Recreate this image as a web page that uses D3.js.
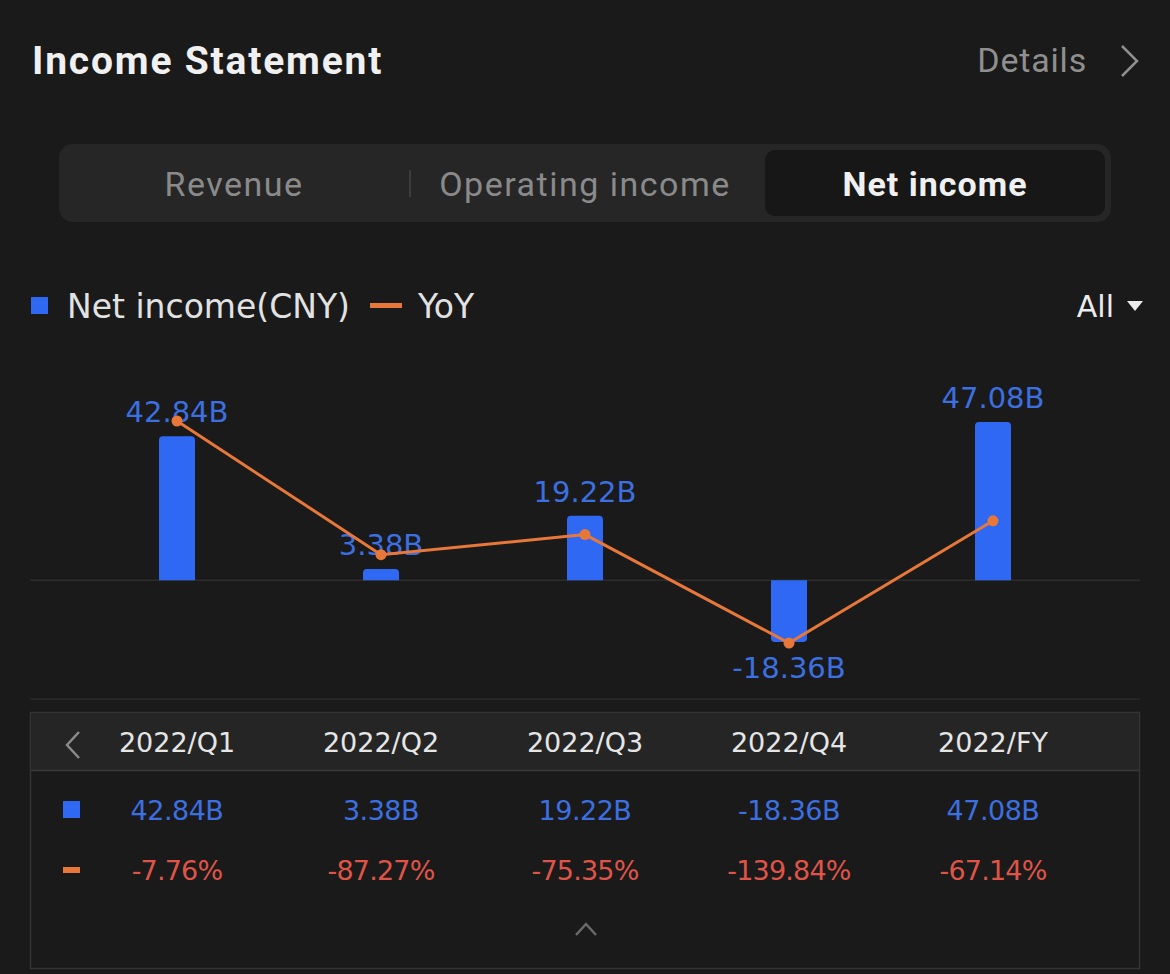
<!DOCTYPE html>
<html>
<head>
<meta charset="utf-8">
<script src="https://cdn.jsdelivr.net/npm/d3@7"></script>
<style>
  html, body { margin: 0; padding: 0; background: #1a1a1a; }
  svg { display: block; }
</style>
</head>
<body>
<svg id="chart" width="1170" height="974"></svg>
<script>
var periods = ['2022/Q1', '2022/Q2', '2022/Q3', '2022/Q4', '2022/FY'];
var netIncome = [42.84, 3.38, 19.22, -18.36, 47.08];
var yoy = [-7.76, -87.27, -75.35, -139.84, -67.14];
var tabs = ['Revenue', 'Operating income', 'Net income'];
var activeTab = 2;

var blue = '#2f69f3';
var blueText = '#3c6fe0';
var orange = '#e8773a';
var red = '#df5447';
var numFont = '"DejaVu Sans", sans-serif';
var uiFont = 'Roboto, "Noto Sans", sans-serif';

var svg = d3.select('#chart');

svg.append('rect')
	.attr('width', 1170).attr('height', 974)
	.attr('fill', '#1a1a1a');

// header
svg.append('text')
	.attr('x', 32).attr('y', 74)
	.attr('font-family', uiFont).attr('font-weight', 700).attr('font-size', 39)
	.attr('letter-spacing', 1.8)
	.attr('fill', '#f0f0f0')
	.text('Income Statement');

svg.append('text')
	.attr('x', 1087).attr('y', 72)
	.attr('text-anchor', 'end')
	.attr('font-family', uiFont).attr('font-size', 34)
	.attr('letter-spacing', 0.8)
	.attr('fill', '#8f8f8f')
	.text('Details');

svg.append('path')
	.attr('d', 'M1122,46 L1137,61 L1122,76')
	.attr('fill', 'none').attr('stroke', '#8f8f8f').attr('stroke-width', 2.5);

// tabs
svg.append('rect')
	.attr('x', 59).attr('y', 144).attr('width', 1052).attr('height', 78)
	.attr('rx', 14).attr('fill', '#262626');
svg.append('rect')
	.attr('x', 765).attr('y', 150).attr('width', 340).attr('height', 66)
	.attr('rx', 10).attr('fill', '#171717');
svg.append('line')
	.attr('x1', 410).attr('x2', 410).attr('y1', 170).attr('y2', 197)
	.attr('stroke', '#444').attr('stroke-width', 1.5);

var tabCenters = [234, 585, 935];
svg.selectAll('.tab')
	.data(tabs)
	.enter().append('text')
	.attr('class', 'tab')
	.attr('x', function(d, i){ return tabCenters[i]; })
	.attr('y', 196)
	.attr('text-anchor', 'middle')
	.attr('font-family', uiFont)
	.attr('font-size', 34)
	.attr('letter-spacing', function(d, i){ return i == activeTab ? 1 : 1.5; })
	.attr('font-weight', function(d, i){ return i == activeTab ? 700 : 400; })
	.attr('fill', function(d, i){ return i == activeTab ? '#f0f0f0' : '#8a8a8a'; })
	.text(function(d){ return d; });

// legend
svg.append('rect')
	.attr('x', 31).attr('y', 297).attr('width', 17).attr('height', 17)
	.attr('fill', blue);
svg.append('text')
	.attr('x', 67).attr('y', 318)
	.attr('font-family', numFont).attr('font-size', 33)
	.attr('fill', '#e2e2e2')
	.text('Net income(CNY)');
svg.append('rect')
	.attr('x', 370).attr('y', 303).attr('width', 32).attr('height', 5)
	.attr('fill', orange);
svg.append('text')
	.attr('x', 418).attr('y', 318)
	.attr('font-family', numFont).attr('font-size', 33)
	.attr('fill', '#e2e2e2')
	.text('YoY');

svg.append('text')
	.attr('x', 1114).attr('y', 317)
	.attr('text-anchor', 'end')
	.attr('font-family', numFont).attr('font-size', 30)
	.attr('fill', '#ececec')
	.text('All');
svg.append('path')
	.attr('d', 'M1127,301 L1143,301 L1135,311 Z')
	.attr('fill', '#ececec');

// scales
var x = d3.scaleBand().domain(periods).range([75, 1095]);
var yBar = d3.scaleLinear().domain(d3.extent(netIncome)).range([642, 422]);
var yLine = d3.scaleLinear().domain(d3.extent(yoy)).range([643, 421]);
var barW = 36, r = 4;

function cx(d){ return x(d) + x.bandwidth() / 2; }

svg.append('line')
	.attr('x1', 30).attr('x2', 1140)
	.attr('y1', yBar(0)).attr('y2', yBar(0))
	.attr('stroke', '#2c2c2c').attr('stroke-width', 1.5);
svg.append('line')
	.attr('x1', 30).attr('x2', 1140)
	.attr('y1', 699).attr('y2', 699)
	.attr('stroke', '#2a2a2a').attr('stroke-width', 1.5);

// bars, rounded on the outer end
svg.selectAll('.bar')
	.data(netIncome)
	.enter().append('path')
	.attr('class', 'bar')
	.attr('fill', blue)
	.attr('d', function(v, i){
		var x0 = cx(periods[i]) - barW / 2, x1 = x0 + barW;
		var y0 = yBar(0), y1 = yBar(v);
		var rr = Math.min(r, Math.abs(y0 - y1));
		if (v >= 0){
			return 'M' + x0 + ',' + y0 + 'V' + (y1 + rr) + 'Q' + x0 + ',' + y1 + ' ' + (x0 + rr) + ',' + y1 +
				'H' + (x1 - rr) + 'Q' + x1 + ',' + y1 + ' ' + x1 + ',' + (y1 + rr) + 'V' + y0 + 'Z';
		}
		return 'M' + x0 + ',' + y0 + 'V' + (y1 - rr) + 'Q' + x0 + ',' + y1 + ' ' + (x0 + rr) + ',' + y1 +
			'H' + (x1 - rr) + 'Q' + x1 + ',' + y1 + ' ' + x1 + ',' + (y1 - rr) + 'V' + y0 + 'Z';
	});

svg.selectAll('.barLabel')
	.data(netIncome)
	.enter().append('text')
	.attr('class', 'barLabel')
	.attr('x', function(v, i){ return cx(periods[i]); })
	.attr('y', function(v){ return v >= 0 ? yBar(v) - 14 : yBar(v) + 36; })
	.attr('text-anchor', 'middle')
	.attr('font-family', numFont).attr('font-size', 29)
	.attr('fill', blueText)
	.text(function(v){ return v.toFixed(2) + 'B'; });

// YoY line
var line = d3.line()
	.x(function(v, i){ return cx(periods[i]); })
	.y(function(v){ return yLine(v); });

svg.append('path')
	.datum(yoy)
	.attr('d', line)
	.attr('fill', 'none')
	.attr('stroke', orange)
	.attr('stroke-width', 3);

svg.selectAll('.dot')
	.data(yoy)
	.enter().append('circle')
	.attr('class', 'dot')
	.attr('cx', function(v, i){ return cx(periods[i]); })
	.attr('cy', function(v){ return yLine(v); })
	.attr('r', 5.5)
	.attr('fill', orange);

// table
svg.append('rect')
	.attr('x', 30.5).attr('y', 712.5).attr('width', 1109).attr('height', 256)
	.attr('fill', '#1a1a1a').attr('stroke', '#343434').attr('stroke-width', 1.5);
svg.append('rect')
	.attr('x', 31).attr('y', 713).attr('width', 1108).attr('height', 57)
	.attr('fill', '#252525');
svg.append('line')
	.attr('x1', 31).attr('x2', 1139).attr('y1', 770.5).attr('y2', 770.5)
	.attr('stroke', '#3a3a3a').attr('stroke-width', 1.5);
svg.append('path')
	.attr('d', 'M79,732 L67,745 L79,758')
	.attr('fill', 'none').attr('stroke', '#8a8a8a').attr('stroke-width', 2.5);

svg.selectAll('.period')
	.data(periods)
	.enter().append('text')
	.attr('class', 'period')
	.attr('x', function(d){ return cx(d); })
	.attr('y', 752)
	.attr('text-anchor', 'middle')
	.attr('font-family', numFont).attr('font-size', 27)
	.attr('fill', '#e6e6e6')
	.text(function(d){ return d; });

svg.append('rect')
	.attr('x', 63).attr('y', 801).attr('width', 17).attr('height', 17)
	.attr('fill', blue);
svg.append('rect')
	.attr('x', 63).attr('y', 867).attr('width', 17).attr('height', 6)
	.attr('fill', orange);

svg.selectAll('.valCell')
	.data(netIncome)
	.enter().append('text')
	.attr('class', 'valCell')
	.attr('x', function(v, i){ return cx(periods[i]); })
	.attr('y', 820)
	.attr('text-anchor', 'middle')
	.attr('font-family', numFont).attr('font-size', 27)
	.attr('letter-spacing', -0.5)
	.attr('fill', blueText)
	.text(function(v){ return v.toFixed(2) + 'B'; });

svg.selectAll('.yoyCell')
	.data(yoy)
	.enter().append('text')
	.attr('class', 'yoyCell')
	.attr('x', function(v, i){ return cx(periods[i]); })
	.attr('y', 880)
	.attr('text-anchor', 'middle')
	.attr('font-family', numFont).attr('font-size', 27)
	.attr('letter-spacing', -0.8)
	.attr('fill', red)
	.text(function(v){ return v.toFixed(2) + '%'; });

svg.append('path')
	.attr('d', 'M576,935 L586,924 L596,935')
	.attr('fill', 'none').attr('stroke', '#6a6a6a').attr('stroke-width', 2.5);
</script>
</body>
</html>
